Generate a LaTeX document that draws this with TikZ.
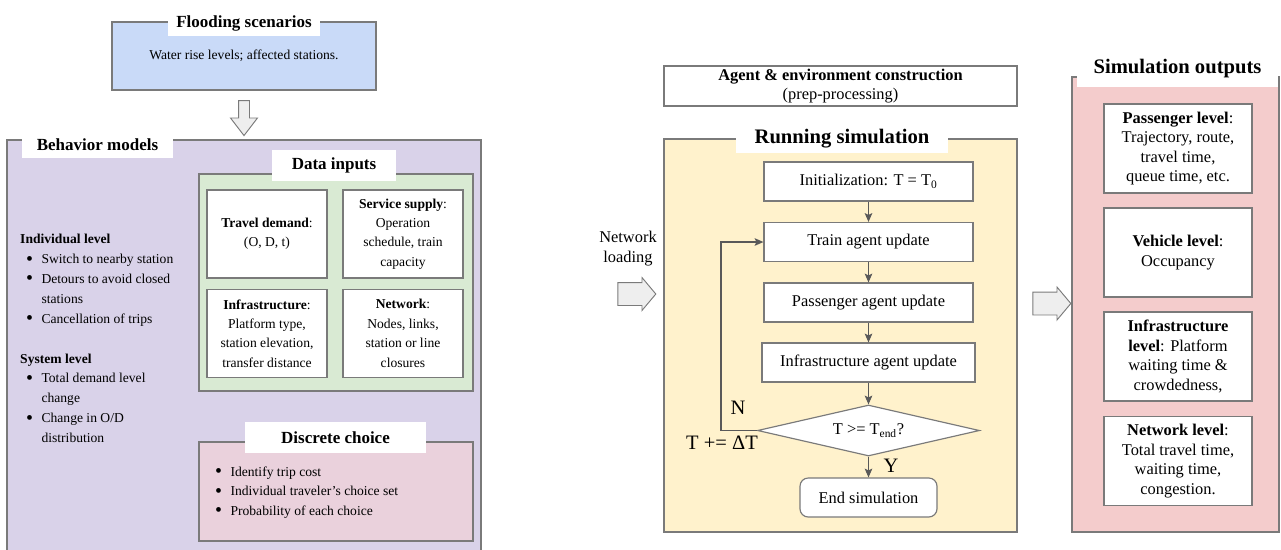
\documentclass[tikz,border=0pt]{standalone}
\usepackage{fontspec}
\setmainfont{Liberation Serif}
\usetikzlibrary{arrows.meta, positioning, shapes.geometric, shapes.arrows}
\usepackage{xcolor}
\def\pxunit{0.03cm}
\definecolor{floodblue}{HTML}{C9DAF8}
\definecolor{behavlav}{HTML}{D9D2E9}
\definecolor{datagreen}{HTML}{D9EAD3}
\definecolor{choicepink}{HTML}{EAD1DC}
\definecolor{runyellow}{HTML}{FFF2CC}
\definecolor{outpink}{HTML}{F4CCCC}
\definecolor{edgegray}{HTML}{7A7A7A}
\definecolor{arrowgray}{HTML}{595959}
\definecolor{arrowfill}{HTML}{EEEEEE}
\newcommand{\leftsize}{\fontsize{11.6}{16.6}\selectfont}
\newcommand{\lefttitle}{\fontsize{14.5}{17}\selectfont\bfseries}
\newcommand{\rightsize}{\fontsize{14}{16.6}\selectfont}
\newcommand{\righttitle}{\fontsize{17.6}{20}\selectfont\bfseries}
\newcommand{\marksize}{\fontsize{17.5}{20}\selectfont}
\newcommand{\bitem}{\makebox[0.46cm][l]{\raisebox{-0.25ex}{\fontsize{17}{17}\selectfont\textbullet}}}

\begin{document}
\begin{tikzpicture}[x=\pxunit, y=-\pxunit, >={Stealth[length=7.5pt,width=6.5pt,inset=1.5pt]}]
    \tikzstyle{panel}=[draw=edgegray, line width=1pt, inner sep=0pt]
    \tikzstyle{title}=[fill=white, inner sep=0pt]
    \tikzstyle{card}=[draw=edgegray, fill=white, line width=1pt, align=center, inner sep=0pt]
    \tikzstyle{flowbox}=[card, minimum width=6.27cm, minimum height=1.17cm, font=\rightsize]
    \tikzstyle{flow}=[->, draw=arrowgray, line width=1pt]
    \tikzstyle{hollow arrow}=[single arrow, draw=edgegray, fill=arrowfill, line width=0.8pt, inner xsep=0pt]

    \useasboundingbox (0,0) rectangle (1281,549);

    % Flooding scenarios
    \node[panel, fill=floodblue, minimum width=7.92cm, minimum height=2.04cm, font=\leftsize] (flood) at (244,56) {Water rise levels; affected stations.};
    \node[title, minimum width=4.56cm, minimum height=0.78cm, font=\lefttitle] (flood-t) at (244,23) {Flooding scenarios};
    \node[hollow arrow, rotate=-90, minimum height=1.05cm, minimum width=0.78cm, inner ysep=0.15cm,
          single arrow head extend=0.24cm, single arrow tip angle=75] (drop) at (244,114.5) {};

    % Behavior models
    \node[panel, fill=behavlav, minimum width=14.22cm, minimum height=12.33cm] (behav) at (244,345.5) {};
    \node[title, minimum width=4.53cm, minimum height=0.78cm, font=\lefttitle] (behav-t) at (97.5,145) {Behavior models};
    \node[anchor=west, align=left, inner sep=0pt, font=\fontsize{11.6}{17}\selectfont] (levels) at (20,338.5)
        {\textbf{Individual level}\\
         \hspace*{0.18cm}\bitem Switch to nearby station\\
         \hspace*{0.18cm}\bitem Detours to avoid closed\\
         \hspace*{0.64cm}stations\\
         \hspace*{0.18cm}\bitem Cancellation of trips\\[17pt]
         \textbf{System level}\\
         \hspace*{0.18cm}\bitem Total demand level\\
         \hspace*{0.64cm}change\\
         \hspace*{0.18cm}\bitem Change in O/D\\
         \hspace*{0.64cm}distribution};

    % Data inputs
    \node[panel, fill=datagreen, minimum width=8.22cm, minimum height=6.51cm] (data) at (336,282.5) {};
    \node[title, minimum width=3.72cm, minimum height=0.93cm, font=\lefttitle] (data-t) at (334,165) {Data inputs};
    \foreach \name/\x/\y/\txt in {
        demand/267/234/{\textbf{Travel demand}:\\(O, D, t)},
        supply/403/234/{\textbf{Service supply}:\\Operation\\schedule, train\\capacity},
        infra/267/333.5/{\textbf{Infrastructure}:\\Platform type,\\station elevation,\\transfer distance},
        net/403/333.5/{\textbf{Network}:\\Nodes, links,\\station or line\\closures}}
        \node[card, font=\leftsize, minimum width=3.6cm, minimum height=2.64cm] (\name) at (\x,\y) {\txt};

    % Discrete choice
    \node[panel, fill=choicepink, minimum width=8.22cm, minimum height=2.97cm] (choice) at (336,491.5) {};
    \node[title, minimum width=5.43cm, minimum height=0.93cm, font=\lefttitle] (choice-t) at (335.5,437.5) {Discrete choice};
    \node[anchor=west, align=left, inner sep=0pt, font=\leftsize] (choice-list) at (215,492.5)
        {\bitem Identify trip cost\\
         \bitem Individual traveler’s choice set\\
         \bitem Probability of each choice};

    % Network loading
    \node[font=\rightsize, align=center] (load-t) at (628,248.5) {Network\\loading};
    \node[hollow arrow, minimum height=1.14cm, minimum width=0.96cm, inner ysep=0.33cm,
          single arrow head extend=0.15cm, single arrow tip angle=100] (load) at (632,294) {};

    % Running simulation
    \node[card, minimum width=10.59cm, minimum height=1.2cm, font=\rightsize] (agent) at (840.5,86)
        {\textbf{Agent \& environment construction}\\(prep-processing)};
    \node[panel, fill=runyellow, minimum width=10.59cm, minimum height=11.79cm] (run) at (840.5,335.5) {};
    \node[title, minimum width=6.36cm, minimum height=0.84cm, font=\righttitle] (run-t) at (842,139) {Running simulation};

    \node[flowbox] (init) at (868.5,181.5) {Initialization: T = T\textsubscript{0}};
    \node[flowbox] (train) at (868.5,242) {Train agent update};
    \node[flowbox] (pass) at (868.5,302.5) {Passenger agent update};
    \node[flowbox, minimum width=6.39cm] (infra-up) at (868.5,362.5) {Infrastructure agent update};
    \node[card, diamond, aspect=4, minimum width=6.66cm, minimum height=1.53cm, font=\rightsize] (cond) at (868.5,430.5) {T >= T\textsubscript{end}?};
    \node[flowbox, minimum width=4.11cm, rounded corners=7pt] (finish) at (868.5,497.5) {End simulation};

    \foreach \a/\b in {init/train, train/pass, pass/infra-up, infra-up/cond, cond/finish}
        \draw[flow] (\a.south) -- (\b.north);
    \draw[flow] (cond.west) -- ++(-36,0) |- (train.west);

    \node[font=\marksize] (no) at (738,408) {N};
    \node[font=\marksize] (tinc) at (722,443) {T += ΔT};
    \node[font=\marksize] (yes) at (891,466) {Y};

    % Simulation outputs
    \node[hollow arrow, minimum height=1.14cm, minimum width=0.96cm, inner ysep=0.33cm,
          single arrow head extend=0.15cm, single arrow tip angle=100] (emit) at (1047,303.5) {};
    \node[panel, fill=outpink, minimum width=6.21cm, minimum height=13.65cm] (out) at (1175.5,304.5) {};
    \node[title, minimum width=6.03cm, minimum height=1.08cm, font=\righttitle] (out-t) at (1177.5,69) {Simulation outputs};
    \foreach \name/\y/\txt in {
        pl/148.5/{\textbf{Passenger level}:\\Trajectory, route,\\travel time,\\queue time, etc.},
        vl/252.5/{\textbf{Vehicle level}:\\Occupancy},
        il/356.5/{\textbf{Infrastructure}\\\textbf{level}: Platform\\waiting time \&\\crowdedness,},
        nl/461/{\textbf{Network level}:\\Total travel time,\\waiting time,\\congestion.}}
        \node[card, font=\rightsize, minimum width=4.44cm, minimum height=2.67cm] (\name) at (1178,\y) {\txt};
\end{tikzpicture}
\end{document}
